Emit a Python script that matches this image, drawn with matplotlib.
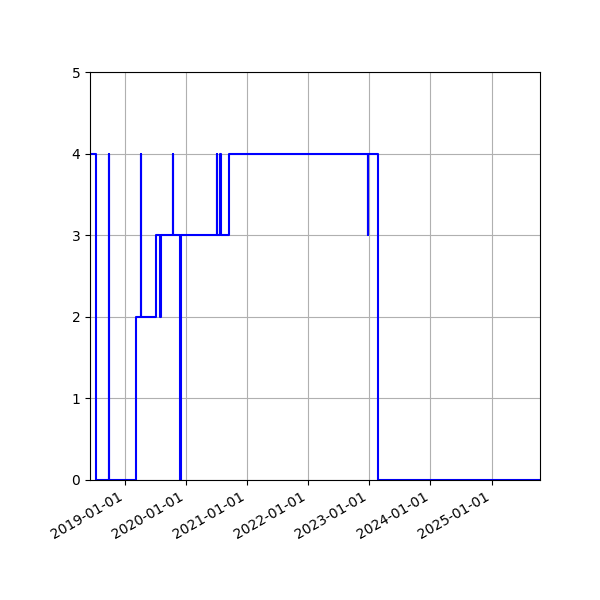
import matplotlib
matplotlib.use('Agg')
import matplotlib.pyplot as plt
import matplotlib.dates as mdates
import numpy as np

dates = ['2018-06-08', '2018-07-15', '2018-09-27', '2018-09-29',
         '2019-03-09', '2019-04-08', '2019-04-10', '2019-07-10',
         '2019-08-03', '2019-08-09', '2019-10-15', '2019-10-17',
         '2019-11-29', '2019-12-01', '2020-07-04', '2020-07-06',
         '2020-07-25', '2020-07-27', '2020-09-17', '2022-12-24',
         '2022-12-26', '2023-02-21', '2025-10-17']
values = [4, 0, 4, 0,
          2, 4, 2, 3,
          2, 3, 4, 3,
          0, 3, 4, 3,
          4, 3, 4, 3,
          4, 0, 0]

x = np.array(dates, dtype='datetime64[D]')

fig, ax = plt.subplots(figsize=(6, 6), dpi=100)
ax.step(x, values, where='post', color='blue')

ax.set_ylim(0, 5)
ax.set_xlim(x[0], x[-1])
ax.xaxis.set_major_locator(mdates.YearLocator())
ax.xaxis.set_major_formatter(mdates.DateFormatter('%Y-%m-%d'))
ax.grid(True)
fig.autofmt_xdate()
fig.subplots_adjust(left=0.15, right=0.9, top=0.88, bottom=0.2)

fig.savefig('out.png')
